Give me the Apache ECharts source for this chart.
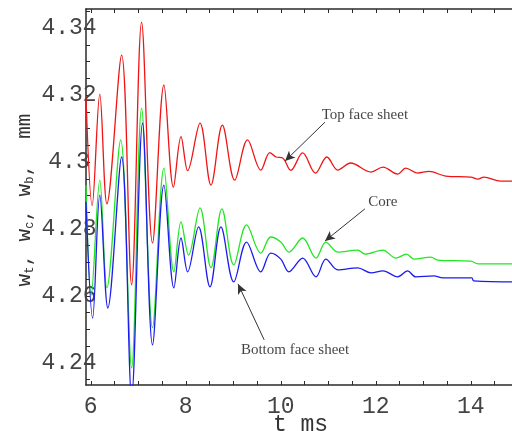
<!DOCTYPE html>
<html>
<head>
<meta charset="utf-8">
<script src="https://cdn.jsdelivr.net/npm/echarts@6/dist/echarts.min.js"></script>
<style>
  html, body { margin: 0; padding: 0; background: #fff; overflow: hidden; width: 512px; height: 431px; }
  #chart { width: 530px; height: 431px; }
</style>
</head>
<body>
<div id="chart"></div>
<script>
// time, ms
const topT = [5.9, 6.03, 6.19, 6.34, 6.65, 6.86, 7.07, 7.30, 7.54, 7.74, 7.90, 8.04, 8.30, 8.53, 8.77, 9.03, 9.30, 9.58, 9.77, 9.90, 10.04, 10.21, 10.46, 10.73, 10.97, 11.20, 11.47, 11.90, 12.15, 12.46, 12.63, 12.88, 13.12, 13.47, 14.00, 14.15, 14.27, 14.63, 14.93];
const topW = [4.3191, 4.2870, 4.3203, 4.2875, 4.3319, 4.2633, 4.3418, 4.2758, 4.3230, 4.2925, 4.3076, 4.2974, 4.3116, 4.2931, 4.3110, 4.2946, 4.3066, 4.2976, 4.3028, 4.3015, 4.3012, 4.2975, 4.3027, 4.2967, 4.3015, 4.2976, 4.2997, 4.2970, 4.2985, 4.2964, 4.2982, 4.2967, 4.2972, 4.2958, 4.2955, 4.2949, 4.2955, 4.2943, 4.2943];

const coreT = [5.9, 6.01, 6.19, 6.34, 6.63, 6.86, 7.07, 7.30, 7.54, 7.75, 7.90, 8.06, 8.30, 8.53, 8.76, 9.01, 9.28, 9.58, 9.79, 10.00, 10.17, 10.46, 10.74, 10.95, 11.20, 11.62, 11.77, 12.15, 12.42, 12.65, 12.80, 13.16, 13.30, 14.00, 14.15, 14.93];
const coreW = [4.2931, 4.2603, 4.2946, 4.2624, 4.3066, 4.2385, 4.3161, 4.2505, 4.2982, 4.2672, 4.2821, 4.2722, 4.2863, 4.2684, 4.2860, 4.2693, 4.2812, 4.2728, 4.2776, 4.2761, 4.2731, 4.2773, 4.2713, 4.2761, 4.2731, 4.2737, 4.2725, 4.2737, 4.2713, 4.2725, 4.2710, 4.2716, 4.2707, 4.2704, 4.2696, 4.2696];

const bottomT = [5.9, 6.04, 6.19, 6.36, 6.65, 6.86, 7.09, 7.30, 7.54, 7.75, 7.90, 8.04, 8.27, 8.51, 8.74, 9.01, 9.28, 9.58, 9.79, 10.00, 10.17, 10.46, 10.74, 10.95, 11.20, 11.62, 11.90, 12.15, 12.46, 12.67, 12.84, 13.22, 13.41, 14.02, 14.06, 14.93];
const bottomW = [4.2881, 4.2534, 4.2901, 4.2564, 4.3015, 4.2300, 4.3116, 4.2454, 4.2931, 4.2624, 4.2773, 4.2672, 4.2806, 4.2627, 4.2806, 4.2642, 4.2761, 4.2672, 4.2728, 4.2710, 4.2672, 4.2713, 4.2657, 4.2710, 4.2678, 4.2684, 4.2669, 4.2675, 4.2657, 4.2675, 4.2657, 4.2660, 4.2654, 4.2654, 4.2645, 4.2642];

// axis ticks and labels
const xLabels = [6, 8, 10, 12, 14];
const xTicks = [6, 6.5, 7, 7.5, 8, 8.5, 9, 9.5, 10, 10.5, 11, 11.5, 12, 12.5, 13, 13.5, 14, 14.5];
const yLabels = [4.24, 4.26, 4.28, 4.3, 4.32, 4.34];
const yTicks = [4.235, 4.24, 4.245, 4.25, 4.255, 4.26, 4.265, 4.27, 4.275, 4.28, 4.285, 4.29, 4.295, 4.3, 4.305, 4.31, 4.315, 4.32, 4.325, 4.33, 4.335, 4.34, 4.345];

// annotations: label position, arrow start, arrow tip (data coords)
const noteTexts = ['Top face sheet', 'Core', 'Bottom face sheet'];
const noteAt = [[11.77, 4.3140], [12.15, 4.2881], [10.30, 4.2439]];
const arrowFrom = [[10.93, 4.3119], [11.77, 4.2860], [9.65, 4.2469]];
const arrowTo = [[10.09, 4.3003], [10.93, 4.2764], [9.10, 4.2636]];

const zip = (ts, ws) => ts.map((t, i) => [t, ws[i]]);

const chart = echarts.init(document.getElementById('chart'));

const monoFont = 'Liberation Mono';
const frameColor = '#2a2a2a';

function curve(name, ts, ws, color) {
    return {
        name: name,
        type: 'line',
        data: zip(ts, ws),
        showSymbol: false,
        smooth: 0.35,
        lineStyle: { color: color, width: 1.3 },
        itemStyle: { color: color },
        silent: true
    };
}

const options = {
    animation: false,
    backgroundColor: '#fff',
    grid: {
        left: 86, top: 9, right: 15, bottom: 46,
        outerBoundsMode: 'none', containLabel: false
    },
    xAxis: [
        {
            type: 'value',
            min: 5.9,
            max: 14.93,
            position: 'bottom',
            name: 't ms',
            nameLocation: 'middle',
            nameGap: 28,
            nameMoveOverlap: false,
            nameTextStyle: { fontFamily: monoFont, fontSize: 23, color: '#333' },
            axisLine: { show: true, onZero: false, lineStyle: { color: frameColor, width: 1.5 } },
            axisTick: { show: true, inside: true, length: 4, customValues: xTicks, lineStyle: { color: frameColor } },
            axisLabel: { customValues: xLabels, margin: 10, fontFamily: monoFont, fontSize: 23, color: '#444' },
            splitLine: { show: false }
        },
        {
            type: 'value',
            min: 5.9,
            max: 14.93,
            position: 'top',
            axisLine: { show: true, onZero: false, lineStyle: { color: frameColor, width: 1.5 } },
            axisTick: { show: true, inside: true, length: 4, customValues: xTicks, lineStyle: { color: frameColor } },
            axisLabel: { show: false },
            splitLine: { show: false }
        }
    ],
    yAxis: {
        type: 'value',
        min: 4.2334,
        max: 4.3457,
        name: '{w|w}{s|t}{w|, w}{s|c}{w|, w}{s|b}{w|,  mm}',
        nameLocation: 'middle',
        nameRotate: 90,
        nameGap: 50,
        nameMoveOverlap: false,
        nameTextStyle: {
            padding: [0, 6, 0, 0],
            rich: {
                w: { fontFamily: monoFont, fontSize: 21, color: '#333', lineHeight: 24 },
                s: { fontFamily: monoFont, fontSize: 12, color: '#333', verticalAlign: 'bottom', lineHeight: 12 }
            }
        },
        axisLine: { show: true, onZero: false, lineStyle: { color: frameColor, width: 1.5 } },
        axisTick: { show: true, inside: true, length: 4, customValues: yTicks, lineStyle: { color: frameColor } },
        axisLabel: { customValues: yLabels, margin: 17, align: 'center', fontFamily: monoFont, fontSize: 23, color: '#444' },
        splitLine: { show: false }
    },
    series: [
        curve('Top face sheet', topT, topW, '#f01414'),
        curve('Core', coreT, coreW, '#22e622'),
        curve('Bottom face sheet', bottomT, bottomW, '#1c1cf0'),
        {
            name: 'notes',
            type: 'scatter',
            silent: true,
            symbolSize: 1,
            itemStyle: { color: 'rgba(0,0,0,0)' },
            data: noteAt.map((p, i) => ({ value: p, name: noteTexts[i] })),
            label: {
                show: true,
                position: 'inside',
                formatter: p => p.name,
                fontFamily: 'Liberation Serif',
                fontSize: 15,
                color: '#111'
            },
            markLine: {
                silent: true,
                symbol: ['none', 'arrow'],
                symbolSize: [7, 10],
                label: { show: false },
                lineStyle: { color: '#333', width: 1, type: 'solid' },
                itemStyle: { color: '#111' },
                data: arrowFrom.map((p, i) => [{ coord: p }, { coord: arrowTo[i] }])
            }
        }
    ]
};

chart.setOption(options);
</script>
</body>
</html>
